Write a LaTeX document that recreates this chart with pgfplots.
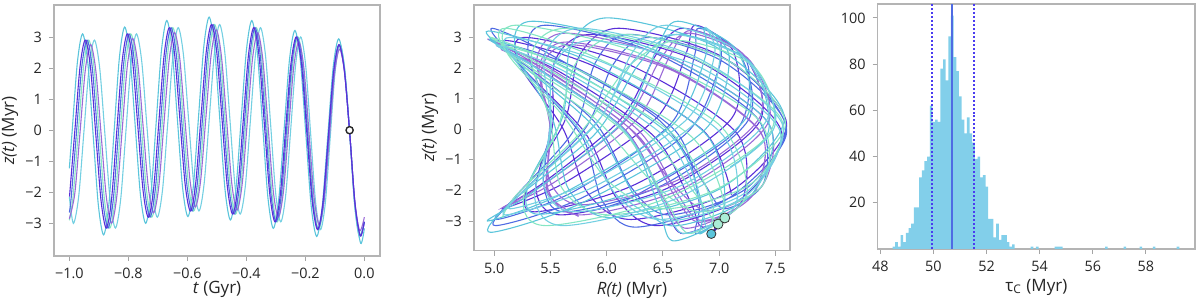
\documentclass[border=0pt]{standalone}
\usepackage{pgfplots}
\pgfplotsset{compat=1.18}
\usepackage{pgfplotstable}
\usepackage{fontspec}
\setmainfont{Open Sans}
\definecolor{cyanA}{HTML}{5BC5DB}
\definecolor{cyanB}{HTML}{74D0E2}
\definecolor{aqua}{HTML}{86E6C4}
\definecolor{lpurple}{HTML}{9A6AD8}
\definecolor{bluev}{HTML}{4F6BE3}
\definecolor{violetC}{HTML}{5A2FD8}
\definecolor{dotv}{HTML}{4A3CF0}
\definecolor{histblue}{HTML}{82CFEA}
\definecolor{frame}{HTML}{B4B4B4}
\definecolor{txt}{HTML}{262626}

\pgfplotstableread{
t z R
0 -3.16 6.95
-0.0125 -3.64 6.58
-0.0313 -2.51 6.46
-0.05 -0.05 6.16
-0.0687 2.09 5.34
-0.0873 2.94 4.96
-0.1059 2.01 5.64
-0.1245 -0.25 6.58
-0.1431 -2.49 6.85
-0.1616 -3.42 6.83
-0.1801 -2.45 7.05
-0.1985 -0.11 6.87
-0.2169 2.24 5.83
-0.2353 3.21 4.95
-0.2537 2.28 5.19
-0.2720 0.03 5.90
-0.2903 -2.23 6.26
-0.3086 -3.16 6.60
-0.3269 -2.17 7.28
-0.3451 0.19 7.44
-0.3633 2.55 6.45
-0.3815 3.53 5.35
-0.3996 2.59 5.19
-0.4178 0.32 5.52
-0.4359 -1.95 5.66
-0.4540 -2.89 6.04
-0.4720 -1.94 7.01
-0.4901 0.37 7.58
-0.5081 2.69 6.97
-0.5261 3.64 6.01
-0.5441 2.70 5.68
-0.5621 0.43 5.61
-0.5801 -1.84 5.30
-0.5980 -2.78 5.40
-0.6160 -1.86 6.36
-0.6339 0.37 7.24
-0.6518 2.61 7.15
-0.6697 3.53 6.63
-0.6876 2.58 6.44
-0.7055 0.27 6.15
-0.7233 -2.04 5.35
-0.7412 -3.00 4.94
-0.7590 -2.08 5.62
-0.7769 0.16 6.59
-0.7947 2.40 6.88
-0.8125 3.32 6.87
-0.8304 2.33 7.09
-0.8482 -0.03 6.87
-0.8660 -2.39 5.79
-0.8838 -3.37 4.97
-0.9016 -2.42 5.14
-0.9194 -0.14 5.90
-0.9372 2.15 6.29
-0.955 3.10 6.63
-0.9728 2.18 7.28
-0.9906 -0.05 7.44
-1.0 -1.23 7.10
}\tabA

\pgfplotstableread{
t z R
0 -2.95 7.03
-0.0137 -3.40 6.66
-0.0318 -2.35 6.50
-0.05 -0.05 6.17
-0.0682 1.95 5.40
-0.0863 2.75 5.02
-0.1044 1.88 5.58
-0.1225 -0.23 6.42
-0.1406 -2.33 6.74
-0.1587 -3.20 6.86
-0.1768 -2.29 7.21
-0.1948 -0.10 7.15
-0.2129 2.09 6.21
-0.2309 3.00 5.28
-0.2490 2.13 5.22
-0.2670 0.03 5.61
-0.2850 -2.08 5.83
-0.3030 -2.95 6.22
-0.3209 -2.03 7.10
-0.3389 0.18 7.60
-0.3569 2.38 7.02
-0.3748 3.30 6.11
-0.3928 2.42 5.76
-0.4107 0.30 5.63
-0.4286 -1.82 5.30
-0.4465 -2.70 5.36
-0.4645 -1.81 6.25
-0.4824 0.35 7.11
-0.5003 2.51 7.13
-0.5181 3.40 6.79
-0.5360 2.52 6.71
-0.5539 0.40 6.45
-0.5718 -1.72 5.64
-0.5896 -2.60 5.07
-0.6075 -1.74 5.44
-0.6253 0.35 6.13
-0.6432 2.44 6.44
-0.6610 3.30 6.68
-0.6788 2.41 7.22
-0.6967 0.25 7.36
-0.7145 -1.91 6.55
-0.7323 -2.80 5.60
-0.7501 -1.94 5.37
-0.7680 0.15 5.52
-0.7858 2.24 5.54
-0.8036 3.10 5.87
-0.8214 2.18 6.84
-0.8392 -0.03 7.55
-0.8570 -2.23 7.21
-0.8748 -3.15 6.45
-0.8926 -2.26 6.09
-0.9104 -0.13 5.81
-0.9282 2.01 5.25
-0.9460 2.90 5.10
-0.9638 2.04 5.90
-0.9816 -0.05 6.86
-0.9994 -2.14 7.11
}\tabB

\pgfplotstableread{
t z R
0 -2.95 7.00
-0.0152 -3.40 6.72
-0.0326 -2.35 6.53
-0.05 -0.05 6.14
-0.0674 1.95 5.35
-0.0849 2.75 5.05
-0.1024 1.88 5.78
-0.1199 -0.23 6.75
-0.1374 -2.33 7.04
-0.1549 -3.20 6.93
-0.1724 -2.29 6.93
-0.1900 -0.10 6.57
-0.2075 2.09 5.58
-0.2251 3.00 4.97
-0.2426 2.13 5.40
-0.2602 0.03 6.31
-0.2778 -2.08 6.78
-0.2954 -2.95 6.98
-0.3131 -2.03 7.25
-0.3307 0.18 6.99
-0.3483 2.38 5.88
-0.3660 3.30 5.10
-0.3836 2.42 5.14
-0.4013 0.30 5.91
-0.4190 -1.82 6.43
-0.4367 -2.70 6.84
-0.4543 -1.81 7.39
-0.4720 0.35 7.34
-0.4897 2.51 6.27
-0.5075 3.40 5.20
-0.5252 2.52 5.11
-0.5429 0.40 5.62
-0.5606 -1.72 6.02
-0.5784 -2.60 6.52
-0.5961 -1.74 7.30
-0.6139 0.35 7.55
-0.6316 2.44 6.70
-0.6494 3.30 5.64
-0.6672 2.41 5.33
-0.6849 0.25 5.50
-0.7027 -1.91 5.60
-0.7205 -2.80 6.02
-0.7383 -1.94 6.99
-0.7560 0.15 7.59
-0.7738 2.24 7.08
-0.7916 3.10 6.16
-0.8094 2.18 5.73
-0.8272 -0.03 5.56
-0.8450 -2.23 5.26
-0.8628 -3.15 5.46
-0.8806 -2.26 6.53
-0.8984 -0.13 7.45
-0.9162 2.01 7.32
-0.9340 2.90 6.64
-0.9518 2.04 6.19
-0.9696 -0.05 5.78
-0.9874 -2.14 5.20
-1.0 -2.90 5.07
}\tabC

\pgfplotstableread{
t z R
0 -2.80 7.07
-0.0159 -3.23 6.69
-0.0329 -2.23 6.50
-0.05 -0.05 6.17
-0.0671 1.85 5.45
-0.0842 2.61 5.06
-0.1014 1.79 5.53
-0.1185 -0.22 6.28
-0.1357 -2.21 6.61
-0.1530 -3.04 6.83
-0.1702 -2.18 7.29
-0.1875 -0.10 7.37
-0.2048 1.99 6.57
-0.2221 2.85 5.65
-0.2395 2.02 5.40
-0.2569 0.03 5.50
-0.2743 -1.98 5.48
-0.2917 -2.80 5.77
-0.3091 -1.93 6.68
-0.3266 0.17 7.43
-0.3440 2.26 7.27
-0.3615 3.14 6.73
-0.3791 2.30 6.48
-0.3966 0.29 6.17
-0.4141 -1.73 5.47
-0.4317 -2.57 5.07
-0.4493 -1.72 5.54
-0.4669 0.33 6.27
-0.4845 2.38 6.56
-0.5021 3.23 6.75
-0.5198 2.39 7.23
-0.5374 0.38 7.36
-0.5551 -1.63 6.65
-0.5728 -2.47 5.78
-0.5905 -1.65 5.49
-0.6082 0.33 5.49
-0.6259 2.32 5.38
-0.6436 3.14 5.64
-0.6613 2.29 6.59
-0.6791 0.24 7.43
-0.6968 -1.81 7.39
-0.7146 -2.66 6.91
-0.7323 -1.84 6.60
-0.7501 0.14 6.17
-0.7679 2.13 5.37
-0.7856 2.95 4.94
-0.8034 2.07 5.46
-0.8212 -0.03 6.28
-0.8390 -2.12 6.63
-0.8568 -2.99 6.85
-0.8746 -2.15 7.30
-0.8924 -0.12 7.37
-0.9102 1.91 6.59
-0.9280 2.76 5.68
-0.9458 1.94 5.42
-0.9636 -0.05 5.50
-0.9814 -2.03 5.47
-1.0 -2.85 5.75
}\tabD

\pgfplotstableread{
t z R
0 -2.95 7.02
-0.0144 -3.40 6.79
-0.0322 -2.35 6.82
-0.05 -0.05 6.61
-0.0678 1.95 5.76
-0.0856 2.75 5.11
-0.1034 1.88 5.28
-0.1212 -0.23 5.78
-0.139 -2.33 5.96
-0.1568 -3.20 6.26
-0.1746 -2.29 7.07
-0.1924 -0.10 7.60
-0.2102 2.09 7.15
-0.228 3.00 6.38
-0.2458 2.13 6.06
-0.2636 0.03 5.81
-0.2814 -2.08 5.24
-0.2992 -2.95 5.02
-0.317 -2.03 5.71
-0.3348 0.18 6.57
-0.3526 2.38 6.78
-0.3704 3.30 6.82
-0.3882 2.42 7.19
-0.406 0.30 7.26
-0.4238 -1.82 6.50
-0.4416 -2.70 5.63
-0.4594 -1.81 5.44
-0.4772 0.35 5.49
-0.495 2.51 5.30
-0.5128 3.40 5.46
-0.5306 2.52 6.41
-0.5484 0.40 7.33
-0.5662 -1.72 7.40
-0.584 -2.60 7.05
-0.6018 -1.74 6.86
-0.6196 0.35 6.45
-0.6374 2.44 5.50
-0.6552 3.30 4.98
-0.673 2.41 5.17
-0.6908 0.25 5.89
-0.7086 -1.91 6.22
-0.7264 -2.80 6.55
-0.7442 -1.94 7.24
-0.762 0.15 7.59
-0.7798 2.24 7.02
-0.7976 3.10 6.20
-0.8154 2.18 5.90
-0.8332 -0.03 5.71
-0.851 -2.23 5.18
-0.8688 -3.15 5.01
-0.8866 -2.26 5.77
-0.9044 -0.13 6.71
-0.9222 2.01 7.00
-0.94 2.90 7.03
-0.9578 2.04 7.26
-0.9756 -0.05 7.15
-0.9934 -2.14 6.27
-1.0 -2.65 5.88
}\tabE

\pgfplotstableread{
t z R
0 -2.95 7.03
-0.0175 -3.40 6.67
-0.0337 -2.35 6.50
-0.05 -0.05 6.16
-0.0663 1.95 5.39
-0.0827 2.75 5.02
-0.0992 1.88 5.63
-0.1157 -0.23 6.51
-0.1322 -2.33 6.83
-0.1488 -3.20 6.90
-0.1655 -2.29 7.16
-0.1822 -0.10 7.01
-0.1990 2.09 6.03
-0.2158 3.00 5.14
-0.2327 2.13 5.21
-0.2496 0.03 5.75
-0.2665 -2.08 6.07
-0.2835 -2.95 6.48
-0.3006 -2.03 7.25
-0.3177 0.18 7.56
-0.3348 2.38 6.78
-0.3520 3.30 5.77
-0.3692 2.42 5.45
-0.3864 0.30 5.50
-0.4037 -1.82 5.44
-0.4210 -2.70 5.72
-0.4383 -1.81 6.68
-0.4557 0.35 7.43
-0.4731 2.51 7.18
-0.4906 3.40 6.53
-0.5080 2.52 6.23
-0.5255 0.40 5.95
-0.5431 -1.72 5.35
-0.5606 -2.60 5.14
-0.5782 -1.74 5.84
-0.5958 0.35 6.72
-0.6134 2.44 6.96
-0.6310 3.30 6.89
-0.6487 2.41 7.01
-0.6663 0.25 6.80
-0.6840 -1.91 5.87
-0.7017 -2.80 5.10
-0.7195 -1.94 5.28
-0.7372 0.15 5.90
-0.7549 2.24 6.24
-0.7727 3.10 6.60
-0.7905 2.18 7.27
-0.8082 -0.03 7.48
-0.8260 -2.23 6.64
-0.8438 -3.15 5.62
-0.8616 -2.26 5.36
-0.8794 -0.13 5.50
-0.8972 2.01 5.52
-0.9150 2.90 5.86
-0.9328 2.04 6.82
-0.9506 -0.05 7.54
-0.9684 -2.14 7.25
-0.9862 -3.00 6.55
-1.0 -2.15 6.12
}\tabF

\pgfplotsset{
  myaxis/.style={
    scale only axis,
    axis line style={draw=frame, line width=0.6pt},
    tick align=outside, xtick pos=bottom, ytick pos=left,
    major tick length=2.5bp,
    tick style={draw=frame!120, line width=0.5pt},
    ticklabel style={font=\fontsize{7.2bp}{8.5bp}\selectfont, text=txt},
    label style={font=\fontsize{8.5bp}{10bp}\selectfont, text=txt},
    /pgf/number format/assume math mode=true,
  },
  orb/.style={line width=0.55pt, smooth},
}

\begin{document}
\begin{tikzpicture}
\useasboundingbox (0,0) rectangle (600bp,150bp);

% Left panel
\begin{axis}[myaxis,
  at={(27bp,22bp)}, anchor=south west,
  width=163bp, height=125.5bp,
  xmin=-1.052, xmax=0.053, ymin=-4.05, ymax=4.03,
  xtick={-1,-0.8,-0.6,-0.4,-0.2,0},
  xticklabels={−1.0,−0.8,−0.6,−0.4,−0.2,0.0},
  ytick={-3,-2,-1,0,1,2,3},
  yticklabels={−3,−2,−1,0,1,2,3},
  xlabel={\textit{t} (Gyr)},
  ylabel={\textit{z(t)} (Myr)},
  xlabel style={at={(axis description cs:0.5,-0.135)}, anchor=center},
  ylabel style={at={(axis description cs:-0.135,0.5)}, anchor=center},
]
\addplot[orb, cyanB] table[x=t,y=z]{\tabF};
\addplot[orb, cyanA] table[x=t,y=z]{\tabA};
\addplot[orb, aqua] table[x=t,y=z]{\tabC};
\addplot[orb, lpurple] table[x=t,y=z]{\tabD};
\addplot[orb, bluev] table[x=t,y=z]{\tabE};
\addplot[orb, violetC] table[x=t,y=z]{\tabB};
\addplot[only marks, mark=*, mark size=1.8bp, mark options={draw=black!85, fill=white, line width=0.7pt}] coordinates {(-0.05,0)};
\end{axis}

% Middle panel
\begin{axis}[myaxis,
  at={(237bp,24.65bp)}, anchor=south west,
  width=158bp, height=122.85bp,
  xmin=4.82, xmax=7.63, ymin=-3.97, ymax=4.06,
  xtick={5,5.5,6,6.5,7,7.5},
  xticklabels={5.0,5.5,6.0,6.5,7.0,7.5},
  ytick={-3,-2,-1,0,1,2,3},
  yticklabels={−3,−2,−1,0,1,2,3},
  xlabel={\textit{R(t)} (Myr)},
  ylabel={\textit{z(t)} (Myr)},
  xlabel style={at={(axis description cs:0.5,-0.16)}, anchor=center},
  ylabel style={at={(axis description cs:-0.139,0.5)}, anchor=center},
]
\addplot[orb, violetC] table[x=R,y=z]{\tabB};
\addplot[orb, bluev] table[x=R,y=z]{\tabE};
\addplot[orb, lpurple] table[x=R,y=z]{\tabD};
\addplot[orb, cyanA] table[x=R,y=z]{\tabA};
\addplot[orb, aqua] table[x=R,y=z]{\tabC};
\addplot[orb, cyanB] table[x=R,y=z]{\tabF};
\addplot[violetC!80!black, line width=1.2pt] coordinates {(6.93,-3.42) (7.05,-2.90)};
\addplot[only marks, mark=*, mark size=2.3bp, mark options={draw=black!80, fill=cyanA, line width=0.4pt}] coordinates {(6.93,-3.42)};
\addplot[only marks, mark=*, mark size=2.5bp, mark options={draw=black!80, fill=aqua!70!white, line width=0.4pt}] coordinates {(6.99,-3.10) (7.05,-2.90)};
\end{axis}

% Right panel
\begin{axis}[myaxis,
  at={(438.85bp,25.5bp)}, anchor=south west,
  width=158.65bp, height=122.5bp,
  xmin=47.9, xmax=59.85, ymin=0, ymax=106,
  xtick={48,50,52,54,56,58},
  ytick={20,40,60,80,100},
  xlabel={τ\textsubscript{C} (Myr)},
  xlabel style={at={(axis description cs:0.5,-0.155)}, anchor=center},
]
\addplot[ybar interval, fill=histblue, draw=none] coordinates {
(48.46,1) (48.56,3) (48.66,1) (48.76,6) (48.86,3) (48.96,7) (49.06,9) (49.16,11)
(49.26,18) (49.36,18) (49.46,31) (49.56,34) (49.66,38) (49.76,40) (49.86,62) (49.96,55)
(50.06,56) (50.16,55) (50.26,78) (50.36,82) (50.46,73) (50.56,92) (50.66,101) (50.76,83)
(50.86,77) (50.96,66) (51.06,56) (51.16,50) (51.26,57) (51.36,50) (51.46,46) (51.56,39)
(51.66,40) (51.76,31) (51.86,32) (51.96,27) (52.06,13) (52.16,13) (52.26,5) (52.36,11)
(52.46,4) (52.56,6) (52.66,6) (52.76,3) (52.86,1) (52.96,2) (53.06,0)
(53.66,1) (53.76,0) (53.86,1) (53.96,0) (54.56,1) (54.66,1) (54.76,1) (54.86,0)
(56.46,1) (56.56,0) (57.16,1) (57.26,0) (57.76,1) (57.86,0) (58.26,1) (58.36,0)
(59.16,1) (59.26,0)
};
\addplot[bluev, line width=0.8pt] coordinates {(50.70,0) (50.70,106)};
\addplot[dotv, line width=0.8pt, dash pattern=on 1pt off 1pt] coordinates {(49.94,0) (49.94,106)};
\addplot[dotv, line width=0.8pt, dash pattern=on 1pt off 1pt] coordinates {(51.52,0) (51.52,106)};
\end{axis}
\end{tikzpicture}
\end{document}
